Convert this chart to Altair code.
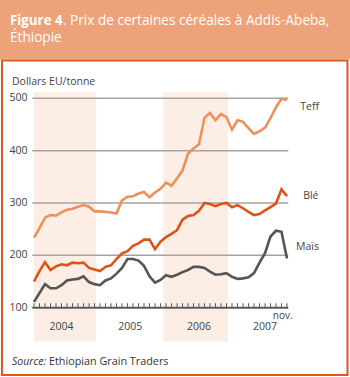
import altair as alt
import pandas as pd

# ---- data (Jan 2004 .. Nov 2007, monthly, USD / tonne) ----
months = list(range(47))
teff = [234, 252, 272, 277, 276, 282, 287, 289, 293, 296, 293, 284,
        284, 283, 282, 280, 305, 312, 313, 318, 321, 311, 320, 327,
        339, 333, 347, 362, 394, 404, 412, 463, 472, 458, 470, 464,
        440, 458, 455, 443, 432, 437, 444, 462, 483, 499, 497]
ble = [150, 170, 187, 172, 179, 183, 181, 186, 185, 186, 176, 173,
       170, 178, 181, 193, 204, 208, 218, 223, 230, 230, 212, 226,
       235, 241, 248, 268, 275, 277, 285, 300, 298, 294, 298, 300,
       292, 296, 290, 283, 277, 279, 286, 292, 299, 326, 313]
mais = [111, 128, 145, 137, 137, 143, 152, 154, 155, 160, 149, 145,
        143, 152, 156, 165, 176, 193, 193, 190, 180, 160, 148, 153,
        162, 159, 163, 168, 172, 178, 178, 176, 169, 163, 164, 166,
        159, 155, 156, 158, 166, 186, 204, 236, 247, 245, 194]
series_names = ["Teff", "Blé", "Maïs"]
series_colors = ["#EF8F5B", "#DE5317", "#555558"]
years = ["2004", "2005", "2006", "2007"]
year_pos = [5.0, 17.5, 30.0, 42.0]
band_start = [0, 23.5]
band_end = [11.3, 35.3]
y_ticks = [100, 200, 300, 400, 500]

rows = []
for name, vals in zip(series_names, [teff, ble, mais]):
    for m, v in zip(months, vals):
        rows.append({"serie": name, "mois": m, "prix": v})
df = pd.DataFrame(rows)

# ---- layout ----
W, H = 257.4, 249.4
PL, PT = 31.8, 92.3
FONT = "Open Sans"

xs = alt.Scale(domain=[-0.4, 46.4], nice=False, zero=False)
ys = alt.Scale(domain=[35, 511.5], nice=False, zero=False)

one = alt.Data(values=[{}])

header = alt.Chart(one).mark_rect(color="#EDA27A").encode(
    x=alt.value(-PL), x2=alt.value(350 - PL),
    y=alt.value(-PT), y2=alt.value(59.5 - PT))

border = alt.Chart(one).mark_rect(fill="white", stroke="#E0591F", strokeWidth=2).encode(
    x=alt.value(2 - PL), x2=alt.value(347.5 - PL),
    y=alt.value(60.5 - PT), y2=alt.value(375 - PT))

bands = alt.Chart(pd.DataFrame({"a": band_start, "b": band_end})).mark_rect(
    color="#FCEEE4").encode(
    x=alt.X("a:Q", scale=xs, axis=None), x2="b:Q",
    y=alt.value(0), y2=alt.value(H))

grid = alt.Chart(pd.DataFrame({"v": y_ticks[1:]})).mark_rule(
    color="#A3A3A3", strokeWidth=1.5).encode(
    y=alt.Y("v:Q", scale=ys, axis=None),
    x=alt.value(0.5), x2=alt.value(256.5))

ylabels = alt.Chart(pd.DataFrame({"v": y_ticks})).mark_text(
    align="right", baseline="middle", font=FONT, fontSize=10.5, color="#444444").encode(
    y=alt.Y("v:Q", scale=ys, axis=None), x=alt.value(-4.3), text="v:Q")

baseline = alt.Chart(pd.DataFrame({"v": [100]})).mark_rule(
    color="#58595B", strokeWidth=2).encode(
    y=alt.Y("v:Q", scale=ys, axis=None),
    x=alt.value(0.5), x2=alt.value(256.5))

ticks = alt.Chart(pd.DataFrame({"m": months})).mark_rule(
    color="#58595B", strokeWidth=1).encode(
    x=alt.X("m:Q", scale=xs, axis=None),
    y=alt.Y("lo:Q", scale=ys, axis=None), y2="hi:Q").transform_calculate(
    lo="100", hi="108.5")

lines = alt.Chart(df).mark_line(strokeWidth=2.6, strokeJoin="miter").encode(
    x=alt.X("mois:Q", scale=xs, axis=None),
    y=alt.Y("prix:Q", scale=ys, axis=None),
    color=alt.Color("serie:N", scale=alt.Scale(domain=series_names, range=series_colors), legend=None),
    detail="serie:N")

ylab = alt.Chart(pd.DataFrame({"t": years, "p": year_pos})).mark_text(
    align="center", baseline="middle", font=FONT, fontSize=10.5, color="#444444").encode(
    x=alt.X("p:Q", scale=xs, axis=None), y=alt.value(326.5 - PT), text="t:N")

def txt(t, x, y, size, align="left", baseline="alphabetic", weight="normal",
        style="normal", color="#333333"):
    return alt.Chart(one).mark_text(
        text=t, align=align, baseline=baseline, font=FONT, fontSize=size,
        fontWeight=weight, fontStyle=style, color=color).encode(
        x=alt.value(x - PL), y=alt.value(y - PT))

texts = [
    txt("Figure 4", 10, 24.5, 13.3, weight="bold", color="white"),
    txt(". Prix de certaines céréales à Addis-Abeba,", 63, 24.5, 13.6, color="white"),
    txt("Éthiopie", 10, 42, 13.6, color="white"),
    txt("Dollars EU/tonne", 12, 84.5, 10.5, color="#444444"),
    txt("nov.", 282.7, 316, 10, align="center", baseline="middle", color="#444444"),
    txt("Teff", 319, 106.7, 10.5, align="right", baseline="middle", color="#444444"),
    txt("Blé", 318.5, 196, 10.5, align="right", baseline="middle", color="#444444"),
    txt("Maïs", 319, 247.3, 10.5, align="right", baseline="middle", color="#444444"),
    txt("Source:", 12, 365, 10.5, style="italic", color="#333333"),
    txt("Ethiopian Grain Traders", 49, 365, 10.8, color="#333333"),
]

chart = alt.layer(header, border, bands, grid, baseline, ticks, lines, ylabels, ylab, *texts).properties(
    width=W, height=H,
    autosize=alt.AutoSizeParams(type="none"),
    padding={"left": PL, "top": PT, "right": 350 - PL - W, "bottom": 377 - PT - H},
    background="white",
).configure_view(stroke=None)

chart.save("out.html", embed_options={"renderer": "svg", "actions": False})
